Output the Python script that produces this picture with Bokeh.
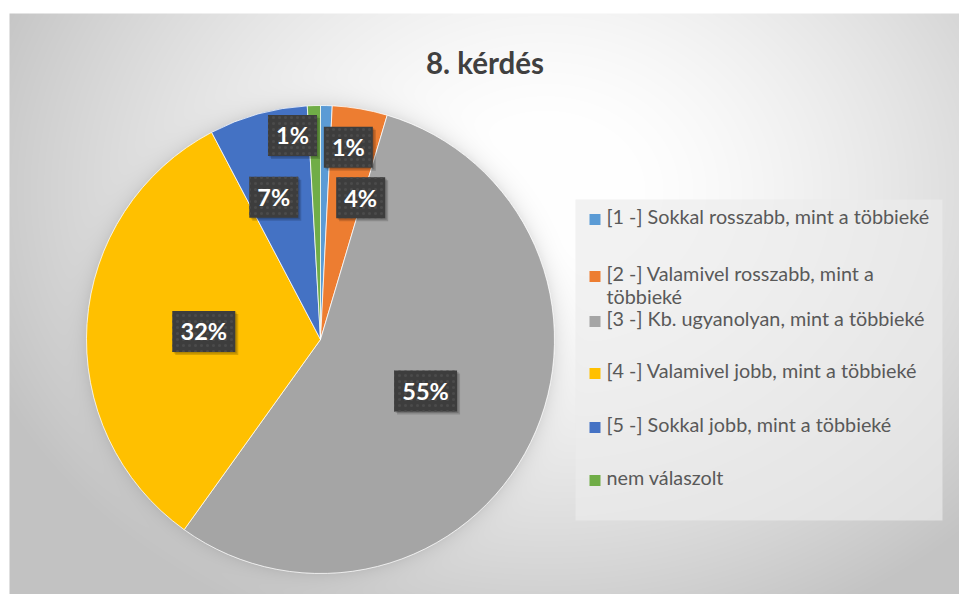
import math
import textwrap
import numpy as np
from bokeh.plotting import figure
from bokeh.models import ColumnDataSource, Range1d
from bokeh.core.properties import value
from bokeh.embed import file_html
from bokeh.resources import INLINE

# ---------------- data ----------------
title_text = "8. kérdés"
categories = [
    "[1 -] Sokkal rosszabb, mint a többieké",
    "[2 -] Valamivel rosszabb, mint a többieké",
    "[3 -] Kb. ugyanolyan, mint a többieké",
    "[4 -] Valamivel jobb, mint a többieké",
    "[5 -] Sokkal jobb, mint a többieké",
    "nem válaszolt",
]
shares = [0.8, 3.8, 55.3, 32.4, 6.8, 0.9]  # percent
colors = ["#5B9BD5", "#ED7D31", "#A5A5A5", "#FFC000", "#4472C4", "#70AD47"]

# ---------------- layout (screen pixels of the page) ----------------
W, H = 959, 594
def yy(sy):
    return H - sy

CX, CY, R = 320, yy(339), 234
# label placement: radius fraction and angular nudge (degrees) per slice
label_rfrac = [0.83, 0.63, 0.5, 0.5, 0.64, 0.88]
label_nudge = [6.8, 6.1, 0.0, 0.0, -2.7, -6.2]
legend_rows = [219, 276, 321, 373, 427, 480]

p = figure(width=W, height=H, output_backend="svg", toolbar_location=None,
           x_range=Range1d(0, W), y_range=Range1d(0, H),
           min_border=0, tools="")
p.axis.visible = False
p.grid.visible = False
p.outline_line_color = None
p.background_fill_color = "white"
p.border_fill_color = "white"

# ---------------- background gradient (decoration) ----------------
X, Y = np.meshgrid(np.arange(W) + 0.5, H - (np.arange(H) + 0.5))
t = np.hypot((X - 545) / 600.0, (Y - 190) / 480.0)
t = np.clip((t - 0.12) / 0.88, 0, 1)
val = 255 - 60 * t ** 1.4
# soft pie shadow
dp = np.hypot(X - CX, Y - 339)
sh = np.where(dp > R, 0.09 * np.exp(-(dp - R) / 8.0), 0.0)
val = val * (1 - sh)
val = np.where((X < 9) | (Y < 13), 255, val)
img = np.empty((H, W), dtype=np.uint32)
view = img.view(dtype=np.uint8).reshape((H, W, 4))
v8 = np.clip(val, 0, 255).astype(np.uint8)
view[:, :, 0] = v8
view[:, :, 1] = v8
view[:, :, 2] = v8
view[:, :, 3] = 255
p.image_rgba(image=[img], x=0, y=0, dw=W, dh=H)

# ---------------- pie ----------------
total = sum(shares)
cum = np.cumsum([0] + shares) / total
start = [math.pi / 2 - 2 * math.pi * cum[i] for i in range(len(shares))]
end = [math.pi / 2 - 2 * math.pi * cum[i + 1] for i in range(len(shares))]
src = ColumnDataSource(dict(start=start, end=end, color=colors, cat=categories))
p.wedge(x=CX, y=CY, radius=R, start_angle="start", end_angle="end",
        direction="clock", fill_color="color", line_color="white",
        line_width=0.75, source=src)

# ---------------- data labels ----------------
lab_x, lab_y, lab_t, lab_w = [], [], [], []
for i, s in enumerate(shares):
    mid = 360 * (cum[i] + cum[i + 1]) / 2 + label_nudge[i]
    r = R * label_rfrac[i]
    lab_x.append(CX + r * math.sin(math.radians(mid)))
    lab_y.append(CY + r * math.cos(math.radians(mid)))
    txt = f"{round(s / total * 100)}%"
    lab_t.append(txt)
    lab_w.append(21 + 14 * len(txt))
lsrc = ColumnDataSource(dict(x=lab_x, y=lab_y, t=lab_t, w=lab_w,
                             xs=[v + 3 for v in lab_x], ys=[v - 3 for v in lab_y],
                             xs2=[v + 1.5 for v in lab_x], ys2=[v - 1.5 for v in lab_y]))
p.rect(x="xs", y="ys", width="w", height=41, fill_color="black", fill_alpha=0.16,
       line_color=None, source=lsrc)
p.rect(x="xs2", y="ys2", width="w", height=41, fill_color="black", fill_alpha=0.16,
       line_color=None, source=lsrc)
p.rect(x="x", y="y", width="w", height=41, fill_color="#3d3d3d", line_color=None,
       hatch_pattern="dot", hatch_color="#4b4b4b", hatch_scale=6, hatch_weight=1.2,
       source=lsrc)
p.text(x="x", y="y", text="t", text_align="center", text_baseline="middle",
       text_color="white", text_font=value("Lato"), text_font_style="bold",
       text_font_size="23.5px", source=lsrc)

# ---------------- title ----------------
p.text(x=[484.5], y=[yy(62)], text=[title_text], text_align="center",
       text_baseline="middle", text_color="#404040", text_font=value("Lato"),
       text_font_style="bold", text_font_size="29.5px")

# ---------------- legend (drawn manually) ----------------
p.rect(x=[(575 + 942) / 2], y=[yy((199 + 520) / 2)], width=942 - 575,
       height=520 - 199, fill_color="#ececec", fill_alpha=0.68, line_color=None)
p.rect(x=[594.5] * len(colors), y=[yy(v) for v in legend_rows], width=11, height=11,
       fill_color=colors, line_color=None)
tx, ty, tt = [], [], []
for i, cat in enumerate(categories):
    for j, line in enumerate(textwrap.wrap(cat, 39)):
        tx.append(606)
        ty.append(yy(legend_rows[i] - 4 + 23 * j))
        tt.append(line)
p.text(x=tx, y=ty, text=tt, text_align="left", text_baseline="middle",
       text_color="#595959", text_font=value("Lato"), text_font_size="19.8px")

open("out.html", "w").write(file_html(p, INLINE))
